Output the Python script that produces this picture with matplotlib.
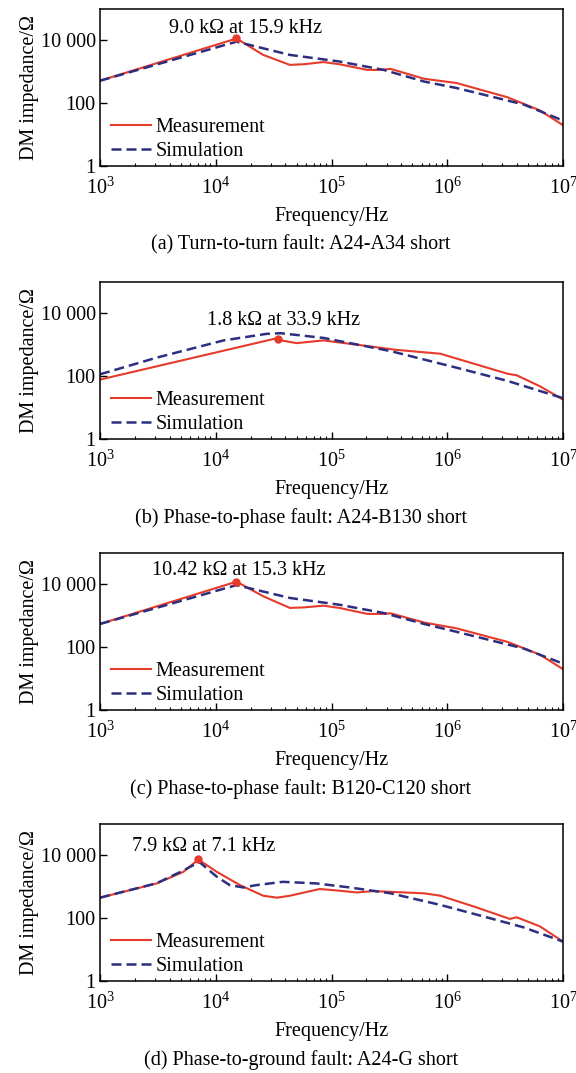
import numpy as np
import matplotlib
matplotlib.use("Agg")
import matplotlib.pyplot as plt
from matplotlib.ticker import FixedLocator, LogLocator, NullFormatter

plt.rcParams['font.family'] = ['Liberation Serif', 'DejaVu Serif']
plt.rcParams['mathtext.fontset'] = 'custom'
plt.rcParams['mathtext.rm'] = 'Liberation Serif'
plt.rcParams['mathtext.it'] = 'Liberation Serif:italic'

# ---- data (frequency in Hz, impedance in ohm) ----
# (a) turn-to-turn fault
a_meas_f = [1e3, 15.1e3, 25.7e3, 43.7e3, 57.5e3, 85e3, 117e3, 204e3, 263e3, 324e3,
            631e3, 1.2e6, 3.31e6, 6.31e6, 1e7]
a_meas_z = [520, 11500, 3450, 1660, 1740, 2040, 1740, 1150, 1150, 1240,
            600, 440, 155, 59, 20]
a_sim_f = [1e3, 15.1e3, 43.7e3, 117e3, 282e3, 631e3, 1.2e6, 4.57e6, 1e7]
a_sim_z = [520, 9100, 3450, 2130, 1150, 490, 305, 91, 28]

# (b) phase-to-phase fault A24-B130
b_meas_f = [1e3, 34.7e3, 38e3, 50e3, 85e3, 204e3, 363e3, 871e3, 1.7e6,
            3.31e6, 3.98e6, 6.31e6, 1e7]
b_meas_z = [78, 1660, 1350, 1130, 1380, 910, 690, 520, 250,
            120, 107, 48, 18]
b_sim_f = [1e3, 3.09e3, 11.7e3, 27.5e3, 36.3e3, 85e3, 324e3, 1.2e6, 3.31e6, 1e7]
b_sim_z = [115, 390, 1380, 2230, 2340, 1660, 630, 187, 71, 20]

# (c) phase-to-phase fault B120-C120
c_meas_f = [1e3, 15.1e3, 25.7e3, 43.7e3, 57.5e3, 85e3, 117e3, 204e3, 282e3, 324e3,
            631e3, 1.2e6, 3.31e6, 6.31e6, 1e7]
c_meas_z = [550, 12200, 4200, 1780, 1850, 2100, 1780, 1150, 1150, 1200,
            610, 400, 148, 58, 20]
c_sim_f = [1e3, 15.1e3, 43.7e3, 117e3, 282e3, 631e3, 1.2e6, 4.57e6, 1e7]
c_sim_z = [550, 9500, 3700, 2250, 1230, 550, 310, 91, 30]

# (d) phase-to-ground fault A24-G
d_meas_f = [1e3, 3.09e3, 5.25e3, 7.08e3, 10.2e3, 16.2e3, 25.7e3, 33.9e3, 43.7e3,
            79e3, 105e3, 166e3, 229e3, 631e3, 871e3, 1.7e6, 3.47e6, 3.98e6,
            6.31e6, 1e7]
d_meas_z = [450, 1280, 3000, 7400, 3000, 1130, 520, 450, 520,
            850, 780, 660, 730, 620, 520, 235, 95, 107,
            55, 18]
d_sim_f = [1e3, 3.09e3, 5.25e3, 7.2e3, 10.2e3, 13.2e3, 17.4e3, 22.4e3, 38e3,
           74e3, 145e3, 324e3, 871e3, 2.34e6, 4.57e6, 1e7]
d_sim_z = [450, 1300, 3300, 6200, 2100, 1130, 950, 1130, 1440,
           1280, 950, 620, 265, 100, 51, 18]

peak_f = [15.1e3, 34.7e3, 15.1e3, 7.08e3]
peak_z = [11500, 1550, 12200, 7800]
peak_labels = ["9.0 k\u03a9 at 15.9 kHz", "1.8 k\u03a9 at 33.9 kHz",
               "10.42 k\u03a9 at 15.3 kHz", "7.9 k\u03a9 at 7.1 kHz"]
captions = ["(a) Turn-to-turn fault: A24-A34 short",
            "(b) Phase-to-phase fault: A24-B130 short",
            "(c) Phase-to-phase fault: B120-C120 short",
            "(d) Phase-to-ground fault: A24-G short"]

panels = [(a_meas_f, a_meas_z, a_sim_f, a_sim_z),
          (b_meas_f, b_meas_z, b_sim_f, b_sim_z),
          (c_meas_f, c_meas_z, c_sim_f, c_sim_z),
          (d_meas_f, d_meas_z, d_sim_f, d_sim_z)]

# label placement (log10 x, log10 y), axes tops in pixels
label_pos = [(4.26, 4.37), (4.59, 3.77), (4.20, 4.43), (3.90, 4.27)]
ax_tops = [9, 282, 553, 824]
caption_y = [245, 518, 789, 1060]

W, H = 576, 1073
fig = plt.figure(figsize=(W / 100, H / 100), dpi=100)
red = '#e63a2a'
navy = '#2c2f80'
fs = 14.5

for i, (mf, mz, sf, sz) in enumerate(panels):
    top = ax_tops[i]
    ax = fig.add_axes([100 / W, 1 - (top + 157) / H, 463 / W, 157 / H])
    ax.plot(mf, mz, color=red, lw=1.5, label='Measurement')
    ax.plot(sf, sz, color=navy, lw=1.8, ls=(0, (4, 2)), label='Simulation')
    ax.plot(peak_f[i], peak_z[i], 'o', color=red, ms=5)
    ax.set_xscale('log')
    ax.set_yscale('log')
    ax.set_xlim(1e3, 1e7)
    ax.set_ylim(1, 1e5)
    ax.yaxis.set_major_locator(FixedLocator([1, 100, 10000]))
    ax.set_yticklabels(['1', '100', '10 000'])
    ax.yaxis.set_minor_locator(LogLocator(base=10, subs=np.arange(2, 10)))
    ax.yaxis.set_minor_formatter(NullFormatter())
    ax.xaxis.set_major_locator(FixedLocator([1e3, 1e4, 1e5, 1e6, 1e7]))
    ax.set_xticklabels([r'$10^{3}$', r'$10^{4}$', r'$10^{5}$', r'$10^{6}$', r'$10^{7}$'])
    ax.xaxis.set_minor_locator(LogLocator(base=10, subs=np.arange(2, 10)))
    ax.xaxis.set_minor_formatter(NullFormatter())
    ax.tick_params(which='both', direction='in', labelsize=fs)
    ax.tick_params(which='major', length=5, width=1)
    ax.tick_params(which='minor', length=2.5, width=0.8)
    ax.tick_params(axis='x', pad=8)
    ax.tick_params(axis='y', pad=3)
    for s in ax.spines.values():
        s.set_linewidth(1.1)
    ax.set_xlabel('Frequency/Hz', fontsize=fs, labelpad=6)
    ax.set_ylabel('DM impedance/\u03a9', fontsize=fs, labelpad=1)
    lx, ly = label_pos[i]
    ax.text(10 ** lx, 10 ** ly, peak_labels[i], ha='center', va='center', fontsize=fs)
    ax.legend(loc='lower left', frameon=False, fontsize=fs, handlelength=2.0,
              handletextpad=0.2, labelspacing=0.25, borderaxespad=0.0,
              bbox_to_anchor=(0.006, -0.019))
    fig.text(301 / W, 1 - caption_y[i] / H, captions[i], ha='center', va='center',
             fontsize=fs)

fig.savefig('out.png', dpi=100)
